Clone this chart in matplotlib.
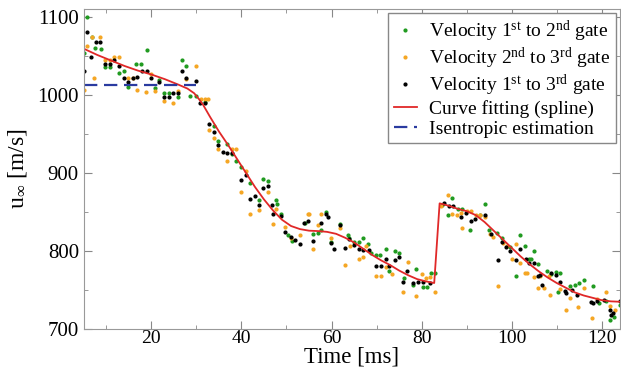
import matplotlib.pyplot as plt
from matplotlib.ticker import MultipleLocator

plt.rcParams['font.family'] = ['Liberation Serif', 'DejaVu Serif']
plt.rcParams['mathtext.fontset'] = 'custom'
plt.rcParams['mathtext.rm'] = 'Liberation Serif'
plt.rcParams['mathtext.it'] = 'Liberation Serif:italic'

# velocity 1st -> 2nd gate (green)
t12 = [5.0, 5.8, 6.8, 7.5, 8.8, 9.7, 10.7, 12.9, 14.0, 14.7, 16.6, 17.7, 19.0, 20.7, 21.8,
       22.9, 24.0, 25.8, 26.8, 27.7, 28.6, 29.9, 31.8, 33.8, 34.7, 36.8, 37.8, 38.8, 39.9,
       41.8, 43.8, 44.7, 45.9, 47.7, 47.9, 48.8, 50.3, 51.3, 54.0, 55.8, 57.0, 57.7, 58.8,
       59.9, 61.8, 63.6, 63.8, 65.1, 66.0, 67.0, 68.1, 68.8, 69.9, 70.8, 72.0, 72.7, 74.0,
       75.0, 76.2, 78.0, 78.8, 80.3, 81.3, 82.1, 82.9, 84.5, 85.8, 86.8, 88.0, 89.0, 90.8,
       92.9, 94.0, 95.0, 96.7, 97.9, 99.7, 101.0, 101.9, 102.9, 103.8, 104.4, 104.9, 105.8,
       107.8, 108.8, 109.8, 110.3, 110.8, 112.9, 114.0, 115.0, 116.0, 118.0, 119.5, 120.9,
       121.8, 122.7, 124.0]
u12 = [1054, 1099, 1074, 1060, 1059, 1036, 1036, 1028, 1030, 1010, 1040, 1040, 1057, 1009, 1019,
       1002, 1002, 997, 1045, 1037, 999, 999, 991, 960, 941, 937, 924, 915, 907,
       887, 865, 892, 890, 865, 860, 847, 820, 813, 836, 822, 823, 827, 850,
       811, 835, 820, 817, 812, 812, 817, 809, 797, 795, 795, 803, 774, 800,
       797, 765, 757, 777, 754, 754, 772, 772, 859, 846, 868, 854, 854, 827,
       846, 860, 827, 823, 817, 805, 768, 820, 807, 790, 790, 800, 783,
       775, 771, 773, 748, 772, 755, 756, 759, 763, 755, 733, 736,
       711, 715, 731]

# velocity 2nd -> 3rd gate (orange)
t23 = [5.0, 5.8, 6.8, 7.2, 8.7, 9.7, 10.7, 11.8, 12.9, 14.7, 16.0, 16.8, 18.8, 19.9, 20.7,
       22.9, 24.7, 25.8, 27.7, 29.9, 31.0, 31.8, 32.5, 32.7, 33.8, 34.7, 36.8, 37.8, 38.8,
       39.9, 40.9, 42.0, 43.8, 45.9, 47.0, 47.7, 49.7, 51.0, 52.9, 54.7, 55.1, 55.8, 57.0,
       57.7, 59.9, 61.8, 62.9, 64.2, 66.0, 67.0, 67.6, 69.9, 71.0, 72.0, 73.5, 75.8, 77.0,
       78.8, 80.0, 81.0, 81.8, 82.9, 84.3, 85.8, 86.8, 87.8, 88.8, 89.0, 90.0, 91.0, 92.0,
       92.9, 94.0, 95.2, 95.8, 97.0, 98.0, 99.0, 100.0, 101.0, 101.9, 102.9, 103.5, 104.9,
       105.8, 106.3, 107.2, 108.2, 108.5, 110.8, 112.0, 112.9, 114.7, 116.0, 117.9, 119.0,
       120.9, 121.8, 123.0]
u23 = [1006, 1062, 1074, 1022, 1074, 1045, 1045, 1049, 1049, 1022, 1022, 1006, 1004, 1027, 1005,
       992, 990, 1005, 1020, 1037, 995, 995, 995, 955, 945, 930, 915, 930, 930,
       875, 902, 848, 852, 875, 835, 854, 831, 816, 820, 847, 848, 803, 833,
       847, 816, 829, 782, 806, 790, 792, 806, 768, 768, 779, 770, 748, 786,
       742, 770, 766, 767, 748, 858, 872, 848, 846, 849, 830, 851, 851, 846,
       846, 843, 822, 818, 755, 810, 807, 790, 809, 785, 772, 772, 767,
       752, 768, 753, 768, 743, 751, 725, 740, 728, 752, 714, 738,
       748, 730, 725]

# velocity 1st -> 3rd gate (black)
t13 = [5.0, 5.8, 6.7, 7.7, 8.7, 9.7, 10.7, 11.8, 12.9, 14.0, 14.7, 16.0, 16.8, 17.9, 19.0,
       19.9, 21.8, 22.9, 24.0, 24.7, 25.8, 26.8, 27.7, 29.8, 30.9, 31.8, 32.7, 33.8, 34.7,
       35.8, 36.8, 37.8, 39.9, 40.9, 41.8, 42.9, 43.8, 44.7, 45.9, 46.7, 46.9, 48.7, 49.7,
       50.9, 51.8, 52.9, 53.8, 54.7, 55.8, 57.7, 58.8, 59.3, 59.9, 60.5, 61.8, 62.9, 63.8,
       65.1, 66.0, 66.9, 68.3, 69.8, 71.0, 72.0, 72.7, 74.0, 75.0, 75.8, 76.7, 78.0, 79.2,
       80.3, 81.8, 84.9, 86.1, 87.0, 88.8, 89.9, 91.0, 91.8, 94.0, 95.5, 97.0, 97.9, 98.7,
       99.7, 100.9, 101.9, 103.1, 103.8, 104.9, 105.8, 106.3, 106.8, 108.8, 109.8, 110.8,
       111.8, 112.1, 113.5, 114.5, 117.7, 118.0, 119.0, 120.5, 121.8, 122.0, 122.5, 124.0]
u13 = [1031, 1080, 1048, 1067, 1067, 1040, 1040, 1045, 1037, 1022, 1016, 1022, 1023, 1031, 1031,
       1021, 1017, 997, 997, 1002, 1002, 1030, 1022, 1018, 989, 989, 962, 952, 936,
       927, 925, 925, 891, 897, 867, 871, 859, 881, 883, 859, 847, 845, 824,
       818, 814, 809, 836, 839, 813, 836, 848, 844, 810, 803, 833, 804, 815,
       808, 802, 801, 801, 781, 781, 790, 781, 788, 792, 760, 774, 759, 760,
       760, 759, 861, 858, 857, 843, 849, 839, 841, 846, 822, 789, 812, 805,
       800, 788, 803, 790, 785, 784, 768, 769, 757, 772, 769, 760,
       749, 746, 750, 744, 735, 733, 736, 737, 724, 718, 721, 736]

# spline fit (red)
t_fit = [5, 8, 11, 14, 17, 20, 23, 26, 28, 29.5, 30.5, 31.5, 33, 35, 37, 39, 41, 43, 45, 47,
         49, 51, 53, 55, 57, 59, 61, 63, 65, 67, 69, 71, 73, 75, 77, 79, 81, 82.8,
         84, 86, 88, 90, 92, 94, 96, 98, 100, 102, 104, 106, 108, 110, 112, 114, 116, 118,
         120, 122, 124]
u_fit = [1059, 1051, 1044, 1037, 1031, 1026, 1020, 1013, 1008, 1002, 995, 987, 972, 953, 936,
         918, 900, 882, 866, 852, 840, 832, 828, 826, 825.5, 824.5, 822, 817, 811, 803, 795,
         788, 782, 775, 769, 764, 761, 759,
         861, 858, 854, 851, 846, 837, 826, 815, 804, 793, 783, 774, 766, 759, 753, 747, 743,
         740, 737, 735.5, 735]

# isentropic estimate (blue dashed)
t_isen = [5, 30]
u_isen = [1013, 1013]

fig, ax = plt.subplots(figsize=(6.21, 3.71), dpi=100)
fig.subplots_adjust(left=0.135, right=0.998, bottom=0.113, top=0.976)

ax.plot(t12, u12, '.', color='#1f9a1f', ms=4, label=r'Velocity 1$^{\rm st}$ to 2$^{\rm nd}$ gate')
ax.plot(t23, u23, '.', color='#f5a623', ms=4, label=r'Velocity 2$^{\rm nd}$ to 3$^{\rm rd}$ gate')
ax.plot(t13, u13, '.', color='black', ms=4, label=r'Velocity 1$^{\rm st}$ to 3$^{\rm rd}$ gate')
ax.plot(t_fit, u_fit, '-', color='#e02828', lw=1.3, label='Curve fitting (spline)')
ax.plot(t_isen, u_isen, '--', color='#2a3ba0', lw=1.6, dashes=(6, 3), label='Isentropic estimation')

ax.set_xlim(5, 124)
ax.set_ylim(700, 1110)
ax.xaxis.set_major_locator(MultipleLocator(20))
ax.xaxis.set_minor_locator(MultipleLocator(10))
ax.yaxis.set_major_locator(MultipleLocator(100))
ax.yaxis.set_minor_locator(MultipleLocator(50))
ax.tick_params(which='both', direction='in', top=True, right=True, color='#888888', labelsize=15)
ax.tick_params(axis='x', labelsize=14, pad=1)
ax.tick_params(which='major', length=6)
ax.tick_params(which='minor', length=3)
for s in ax.spines.values():
    s.set_color('#999999')

ax.set_xlabel('Time [ms]', fontsize=16.5, labelpad=-1)
ax.set_ylabel(r'u$_\infty$ [m/s]', fontsize=17, labelpad=6)

leg = ax.legend(loc='upper right', fontsize=14, handlelength=1.2, handletextpad=0.6,
                borderaxespad=0.2, labelspacing=0.1, fancybox=False, framealpha=1,
                borderpad=0.3)
leg.get_frame().set_edgecolor('#888888')

fig.savefig('out.png', dpi=100)
